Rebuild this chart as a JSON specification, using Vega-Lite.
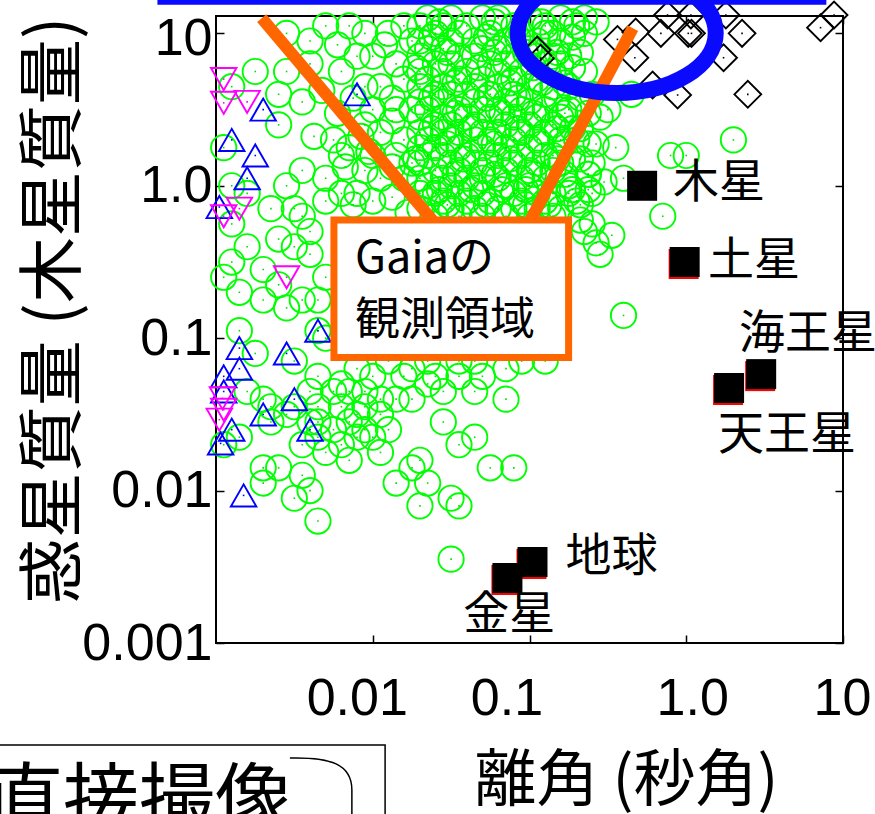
{
"$schema":"https://vega.github.io/schema/vega-lite/v6.json",
"width":627,"height":627,
"autosize":{"type":"none"},
"padding":{"left":216,"top":16,"right":32,"bottom":171},
"background":"white",
"config":{"view":{"stroke":"#000","strokeWidth":2}},
"datasets":{
"pts":[
{"k":"g","x":0.0224,"y":12.6},{"k":"g","x":0.0316,"y":12.6},{"k":"g","x":0.0501,"y":12.6},{"k":"g","x":0.0631,"y":12.6},{"k":"g","x":0.1,"y":12.6},{"k":"g","x":0.158,"y":12.6},{"k":"g","x":0.224,"y":12.6},
{"k":"g","x":0.02,"y":11.2},{"k":"g","x":0.0282,"y":11.2},{"k":"g","x":0.0398,"y":11.2},{"k":"g","x":0.0794,"y":11.2},{"k":"g","x":0.126,"y":11.2},
{"k":"g","x":0.0251,"y":10},{"k":"g","x":0.0355,"y":10},{"k":"g","x":0.0562,"y":10},{"k":"g","x":0.0891,"y":10},{"k":"g","x":0.141,"y":10},
{"k":"g","x":0.02,"y":8.91},{"k":"g","x":0.0316,"y":8.91},{"k":"g","x":0.0447,"y":8.91},{"k":"g","x":0.0708,"y":8.91},{"k":"g","x":0.112,"y":8.91},{"k":"g","x":0.158,"y":8.91},
{"k":"g","x":0.0224,"y":7.94},{"k":"g","x":0.0282,"y":7.94},{"k":"g","x":0.0501,"y":7.94},{"k":"g","x":0.0631,"y":7.94},{"k":"g","x":0.1,"y":7.94},
{"k":"g","x":0.02,"y":7.08},{"k":"g","x":0.0355,"y":7.08},{"k":"g","x":0.0447,"y":7.08},{"k":"g","x":0.0794,"y":7.08},{"k":"g","x":0.112,"y":7.08},
{"k":"g","x":0.0251,"y":6.31},{"k":"g","x":0.0316,"y":6.31},{"k":"g","x":0.0562,"y":6.31},{"k":"g","x":0.0708,"y":6.31},{"k":"g","x":0.126,"y":6.31},{"k":"g","x":0.158,"y":6.31},
{"k":"g","x":0.02,"y":5.62},{"k":"g","x":0.0282,"y":5.62},{"k":"g","x":0.0398,"y":5.62},{"k":"g","x":0.0631,"y":5.62},{"k":"g","x":0.0891,"y":5.62},{"k":"g","x":0.141,"y":5.62},
{"k":"g","x":0.0224,"y":5.01},{"k":"g","x":0.0355,"y":5.01},{"k":"g","x":0.0501,"y":5.01},{"k":"g","x":0.0794,"y":5.01},{"k":"g","x":0.112,"y":5.01},
{"k":"g","x":0.02,"y":4.47},{"k":"g","x":0.0282,"y":4.47},{"k":"g","x":0.0447,"y":4.47},{"k":"g","x":0.0631,"y":4.47},{"k":"g","x":0.1,"y":4.47},{"k":"g","x":0.141,"y":4.47},
{"k":"g","x":0.0251,"y":3.98},{"k":"g","x":0.0316,"y":3.98},{"k":"g","x":0.0398,"y":3.98},{"k":"g","x":0.0562,"y":3.98},{"k":"g","x":0.0794,"y":3.98},{"k":"g","x":0.126,"y":3.98},
{"k":"g","x":0.02,"y":3.55},{"k":"g","x":0.0282,"y":3.55},{"k":"g","x":0.0447,"y":3.55},{"k":"g","x":0.0708,"y":3.55},{"k":"g","x":0.1,"y":3.55},
{"k":"g","x":0.0224,"y":3.16},{"k":"g","x":0.0355,"y":3.16},{"k":"g","x":0.0501,"y":3.16},{"k":"g","x":0.0631,"y":3.16},{"k":"g","x":0.0891,"y":3.16},{"k":"g","x":0.126,"y":3.16},{"k":"g","x":0.178,"y":3.16},
{"k":"g","x":0.02,"y":2.82},{"k":"g","x":0.0282,"y":2.82},{"k":"g","x":0.0398,"y":2.82},{"k":"g","x":0.0562,"y":2.82},{"k":"g","x":0.0794,"y":2.82},{"k":"g","x":0.112,"y":2.82},
{"k":"g","x":0.0251,"y":2.51},{"k":"g","x":0.0316,"y":2.51},{"k":"g","x":0.0447,"y":2.51},{"k":"g","x":0.0708,"y":2.51},{"k":"g","x":0.1,"y":2.51},{"k":"g","x":0.141,"y":2.51},
{"k":"g","x":0.02,"y":2.24},{"k":"g","x":0.0282,"y":2.24},{"k":"g","x":0.0355,"y":2.24},{"k":"g","x":0.0501,"y":2.24},{"k":"g","x":0.0631,"y":2.24},{"k":"g","x":0.0891,"y":2.24},{"k":"g","x":0.126,"y":2.24},
{"k":"g","x":0.0224,"y":2.0},{"k":"g","x":0.0316,"y":2.0},{"k":"g","x":0.0447,"y":2.0},{"k":"g","x":0.0562,"y":2.0},{"k":"g","x":0.0794,"y":2.0},{"k":"g","x":0.112,"y":2.0},{"k":"g","x":0.158,"y":2.0},
{"k":"g","x":0.02,"y":1.78},{"k":"g","x":0.0251,"y":1.78},{"k":"g","x":0.0355,"y":1.78},{"k":"g","x":0.0501,"y":1.78},{"k":"g","x":0.0708,"y":1.78},{"k":"g","x":0.1,"y":1.78},
{"k":"g","x":0.0224,"y":1.58},{"k":"g","x":0.0282,"y":1.58},{"k":"g","x":0.0398,"y":1.58},{"k":"g","x":0.0631,"y":1.58},{"k":"g","x":0.0891,"y":1.58},{"k":"g","x":0.126,"y":1.58},
{"k":"g","x":0.02,"y":1.41},{"k":"g","x":0.0316,"y":1.41},{"k":"g","x":0.0447,"y":1.41},{"k":"g","x":0.0562,"y":1.41},{"k":"g","x":0.0794,"y":1.41},{"k":"g","x":0.112,"y":1.41},{"k":"g","x":0.158,"y":1.41},
{"k":"g","x":0.0251,"y":1.26},{"k":"g","x":0.0355,"y":1.26},{"k":"g","x":0.0501,"y":1.26},{"k":"g","x":0.0708,"y":1.26},{"k":"g","x":0.1,"y":1.26},{"k":"g","x":0.141,"y":1.26},
{"k":"g","x":0.02,"y":1.12},{"k":"g","x":0.0282,"y":1.12},{"k":"g","x":0.0398,"y":1.12},{"k":"g","x":0.0501,"y":1.12},{"k":"g","x":0.0631,"y":1.12},{"k":"g","x":0.0891,"y":1.12},{"k":"g","x":0.126,"y":1.12},
{"k":"g","x":0.0224,"y":1.0},{"k":"g","x":0.0316,"y":1.0},{"k":"g","x":0.0447,"y":1.0},{"k":"g","x":0.0708,"y":1.0},{"k":"g","x":0.1,"y":1.0},{"k":"g","x":0.178,"y":1.0},
{"k":"g","x":0.02,"y":0.891},{"k":"g","x":0.0251,"y":0.891},{"k":"g","x":0.0355,"y":0.891},{"k":"g","x":0.0501,"y":0.891},{"k":"g","x":0.0794,"y":0.891},{"k":"g","x":0.112,"y":0.891},{"k":"g","x":0.141,"y":0.891},
{"k":"g","x":0.0224,"y":0.794},{"k":"g","x":0.0282,"y":0.794},{"k":"g","x":0.0398,"y":0.794},{"k":"g","x":0.0562,"y":0.794},{"k":"g","x":0.0891,"y":0.794},{"k":"g","x":0.126,"y":0.794},
{"k":"g","x":0.02,"y":0.708},{"k":"g","x":0.0316,"y":0.708},{"k":"g","x":0.0447,"y":0.708},{"k":"g","x":0.0631,"y":0.708},{"k":"g","x":0.0794,"y":0.708},{"k":"g","x":0.112,"y":0.708},{"k":"g","x":0.158,"y":0.708},
{"k":"g","x":0.0251,"y":0.631},{"k":"g","x":0.0355,"y":0.631},{"k":"g","x":0.0501,"y":0.631},{"k":"g","x":0.0708,"y":0.631},{"k":"g","x":0.1,"y":0.631},{"k":"g","x":0.141,"y":0.631},
{"k":"g","x":0.0266,"y":11.89},{"k":"g","x":0.0596,"y":11.89},{"k":"g","x":0.119,"y":11.89},{"k":"g","x":0.188,"y":11.89},{"k":"g","x":0.266,"y":11.89},
{"k":"g","x":0.0237,"y":9.44},{"k":"g","x":0.0531,"y":9.44},{"k":"g","x":0.0841,"y":9.44},{"k":"g","x":0.188,"y":9.44},
{"k":"g","x":0.0299,"y":7.5},{"k":"g","x":0.0596,"y":7.5},{"k":"g","x":0.0944,"y":7.5},{"k":"g","x":0.15,"y":7.5},{"k":"g","x":0.211,"y":7.5},
{"k":"g","x":0.0188,"y":5.96},{"k":"g","x":0.0473,"y":5.96},{"k":"g","x":0.106,"y":5.96},{"k":"g","x":0.188,"y":5.96},
{"k":"g","x":0.0335,"y":4.73},{"k":"g","x":0.075,"y":4.73},{"k":"g","x":0.119,"y":4.73},{"k":"g","x":0.168,"y":4.73},
{"k":"g","x":0.0237,"y":3.76},{"k":"g","x":0.0531,"y":3.76},{"k":"g","x":0.0841,"y":3.76},{"k":"g","x":0.15,"y":3.76},{"k":"g","x":0.211,"y":3.76},
{"k":"g","x":0.0335,"y":2.99},{"k":"g","x":0.0668,"y":2.99},{"k":"g","x":0.106,"y":2.99},{"k":"g","x":0.168,"y":2.99},{"k":"g","x":0.237,"y":2.99},
{"k":"g","x":0.0237,"y":2.37},{"k":"g","x":0.0422,"y":2.37},{"k":"g","x":0.0841,"y":2.37},{"k":"g","x":0.15,"y":2.37},{"k":"g","x":0.188,"y":2.37},
{"k":"g","x":0.0299,"y":1.88},{"k":"g","x":0.0596,"y":1.88},{"k":"g","x":0.119,"y":1.88},{"k":"g","x":0.168,"y":1.88},{"k":"g","x":0.237,"y":1.88},
{"k":"g","x":0.0188,"y":1.5},{"k":"g","x":0.0376,"y":1.5},{"k":"g","x":0.075,"y":1.5},{"k":"g","x":0.15,"y":1.5},{"k":"g","x":0.211,"y":1.5},
{"k":"g","x":0.0335,"y":1.19},{"k":"g","x":0.0596,"y":1.19},{"k":"g","x":0.106,"y":1.19},{"k":"g","x":0.168,"y":1.19},{"k":"g","x":0.237,"y":1.19},
{"k":"g","x":0.0266,"y":0.944},{"k":"g","x":0.0422,"y":0.944},{"k":"g","x":0.0668,"y":0.944},{"k":"g","x":0.0944,"y":0.944},{"k":"g","x":0.188,"y":0.944},{"k":"g","x":0.237,"y":0.944},
{"k":"g","x":0.0299,"y":0.75},{"k":"g","x":0.0531,"y":0.75},{"k":"g","x":0.0944,"y":0.75},{"k":"g","x":0.133,"y":0.75},{"k":"g","x":0.211,"y":0.75},
{"k":"g","x":0.00596,"y":8.41},{"k":"g","x":0.0119,"y":8.41},{"k":"g","x":0.0075,"y":3.76},{"k":"g","x":0.0133,"y":3.76},{"k":"g","x":0.00596,"y":2.99},{"k":"g","x":0.00841,"y":2.11},{"k":"g","x":0.0133,"y":2.66},{"k":"g","x":0.00668,"y":1.33},{"k":"g","x":0.0133,"y":1.33},{"k":"g","x":0.00944,"y":1.68},{"k":"g","x":0.0075,"y":0.75},{"k":"g","x":0.0133,"y":0.841},{"k":"g","x":0.0168,"y":0.668},{"k":"g","x":0.00422,"y":2.11},{"k":"g","x":0.00473,"y":4.22},
{"k":"g","x":0.211,"y":2.37},{"k":"g","x":0.266,"y":1.88},{"k":"g","x":0.188,"y":1.5},{"k":"g","x":0.237,"y":1.19},{"k":"g","x":0.299,"y":1.06},{"k":"g","x":0.211,"y":0.596},{"k":"g","x":0.266,"y":0.422},{"k":"g","x":0.335,"y":0.473},
{"k":"g","x":0.00282,"y":10},{"k":"g","x":0.00398,"y":8.91},{"k":"g","x":0.00178,"y":5.62},{"k":"g","x":0.00282,"y":5.62},{"k":"g","x":0.00398,"y":6.31},{"k":"g","x":0.00251,"y":3.98},{"k":"g","x":0.00355,"y":3.55},{"k":"g","x":0.00126,"y":4.47},{"k":"g","x":0.00251,"y":2.51},{"k":"g","x":0.00562,"y":2.0},{"k":"g","x":0.00631,"y":1.58},{"k":"g","x":0.00355,"y":1.26},{"k":"g","x":0.00501,"y":1.12},{"k":"g","x":0.00282,"y":1.0},{"k":"g","x":0.00126,"y":1.0},{"k":"g","x":0.00158,"y":0.891},{"k":"g","x":0.00631,"y":0.891},{"k":"g","x":0.00501,"y":0.794},{"k":"g","x":0.00316,"y":0.708},{"k":"g","x":0.00112,"y":1.78},
{"k":"g","x":0.00501,"y":11.2},{"k":"g","x":0.00708,"y":11.2},{"k":"g","x":0.00891,"y":10},{"k":"g","x":0.0126,"y":10},{"k":"g","x":0.0158,"y":11.2},{"k":"g","x":0.0178,"y":8.91},{"k":"g","x":0.00794,"y":7.08},{"k":"g","x":0.01,"y":7.08},{"k":"g","x":0.0141,"y":6.31},{"k":"g","x":0.00631,"y":5.62},{"k":"g","x":0.00891,"y":4.47},{"k":"g","x":0.0112,"y":4.47},{"k":"g","x":0.0158,"y":5.01},{"k":"g","x":0.01,"y":3.16},{"k":"g","x":0.0141,"y":3.16},{"k":"g","x":0.0178,"y":3.16},{"k":"g","x":0.00891,"y":2.51},{"k":"g","x":0.0112,"y":2.24},{"k":"g","x":0.0158,"y":2.0},{"k":"g","x":0.00708,"y":1.78},{"k":"g","x":0.01,"y":1.58},{"k":"g","x":0.0141,"y":1.58},{"k":"g","x":0.0178,"y":1.41},{"k":"g","x":0.00891,"y":1.26},{"k":"g","x":0.0112,"y":1.12},{"k":"g","x":0.0158,"y":1.12},{"k":"g","x":0.00794,"y":0.891},{"k":"g","x":0.01,"y":0.794},
{"k":"g","x":0.126,"y":10},{"k":"g","x":0.2,"y":11.2},{"k":"g","x":0.178,"y":7.08},{"k":"g","x":0.141,"y":7.08},{"k":"g","x":0.224,"y":10},{"k":"g","x":0.158,"y":2.82},{"k":"g","x":0.251,"y":3.98},{"k":"g","x":0.316,"y":3.16},{"k":"g","x":0.355,"y":1.78},{"k":"g","x":0.251,"y":1.41},{"k":"g","x":0.447,"y":3.98},{"k":"g","x":0.398,"y":1.12},{"k":"g","x":0.794,"y":1.58},{"k":"g","x":1.0,"y":1.58},{"k":"g","x":2.0,"y":2.0},{"k":"g","x":0.282,"y":2.82},{"k":"g","x":0.251,"y":0.891},{"k":"g","x":0.178,"y":0.891},{"k":"g","x":0.141,"y":1.58},{"k":"g","x":0.708,"y":0.631},{"k":"g","x":0.282,"y":0.355},{"k":"g","x":0.251,"y":0.562},{"k":"g","x":0.224,"y":0.501},{"k":"g","x":0.398,"y":0.141},{"k":"g","x":0.2,"y":0.794},{"k":"g","x":0.126,"y":0.0708},{"k":"g","x":0.2,"y":2.0},{"k":"g","x":0.224,"y":5.62},{"k":"g","x":0.178,"y":4.47},
{"k":"g","x":0.00158,"y":0.398},{"k":"g","x":0.00126,"y":0.316},{"k":"g","x":0.002,"y":0.282},{"k":"g","x":0.00112,"y":0.251},{"k":"g","x":0.00141,"y":0.2},{"k":"g","x":0.00355,"y":0.631},{"k":"g","x":0.00224,"y":0.708},{"k":"g","x":0.00398,"y":0.501},{"k":"g","x":0.00316,"y":0.398},{"k":"g","x":0.00398,"y":0.355},{"k":"g","x":0.00501,"y":0.251},{"k":"g","x":0.00251,"y":0.224},{"k":"g","x":0.00355,"y":0.178},{"k":"g","x":0.00447,"y":0.178},{"k":"g","x":0.00141,"y":0.112},{"k":"g","x":0.00178,"y":0.0794},{"k":"g","x":0.00126,"y":0.562},{"k":"g","x":0.00251,"y":0.447},{"k":"g","x":0.00282,"y":0.158},{"k":"g","x":0.002,"y":0.178},
{"k":"g","x":0.00316,"y":0.0708},{"k":"g","x":0.00447,"y":0.0562},{"k":"g","x":0.00501,"y":0.1},{"k":"g","x":0.00224,"y":0.0355},{"k":"g","x":0.00224,"y":0.0282},{"k":"g","x":0.00282,"y":0.0316},{"k":"g","x":0.00316,"y":0.0355},{"k":"g","x":0.00158,"y":0.0447},{"k":"g","x":0.00141,"y":0.0224},{"k":"g","x":0.00112,"y":0.02},{"k":"g","x":0.002,"y":0.0141},{"k":"g","x":0.00251,"y":0.0141},{"k":"g","x":0.002,"y":0.0112},{"k":"g","x":0.00355,"y":0.0126},{"k":"g","x":0.00398,"y":0.01},{"k":"g","x":0.00316,"y":0.00891},{"k":"g","x":0.00447,"y":0.00631},{"k":"g","x":0.00501,"y":0.0178},{"k":"g","x":0.00355,"y":0.02},{"k":"g","x":0.00631,"y":0.02},{"k":"g","x":0.00708,"y":0.0158},{"k":"g","x":0.00562,"y":0.0251},{"k":"g","x":0.00447,"y":0.0282},{"k":"g","x":0.00398,"y":0.0447},{"k":"g","x":0.002,"y":0.0398},{"k":"g","x":0.00447,"y":0.112},
{"k":"g","x":0.00794,"y":0.0631},{"k":"g","x":0.00631,"y":0.0501},{"k":"g","x":0.01,"y":0.0562},{"k":"g","x":0.0126,"y":0.0708},{"k":"g","x":0.00891,"y":0.0355},{"k":"g","x":0.0112,"y":0.0398},{"k":"g","x":0.0141,"y":0.0398},{"k":"g","x":0.0178,"y":0.0398},{"k":"g","x":0.0224,"y":0.0501},{"k":"g","x":0.0251,"y":0.0562},{"k":"g","x":0.0355,"y":0.0562},{"k":"g","x":0.0355,"y":0.0708},{"k":"g","x":0.0501,"y":0.0562},{"k":"g","x":0.0447,"y":0.0447},{"k":"g","x":0.0708,"y":0.0631},{"k":"g","x":0.0708,"y":0.0398},{"k":"g","x":0.0282,"y":0.0282},{"k":"g","x":0.00631,"y":0.0355},{"k":"g","x":0.00794,"y":0.0224},{"k":"g","x":0.0112,"y":0.0178},{"k":"g","x":0.02,"y":0.0158},{"k":"g","x":0.0178,"y":0.0141},{"k":"g","x":0.0141,"y":0.0112},{"k":"g","x":0.0224,"y":0.0112},{"k":"g","x":0.0316,"y":0.00891},{"k":"g","x":0.0355,"y":0.02},{"k":"g","x":0.0447,"y":0.0224},{"k":"g","x":0.0562,"y":0.0141},{"k":"g","x":0.0794,"y":0.0141},{"k":"g","x":0.02,"y":0.00794},{"k":"g","x":0.0355,"y":0.00794},{"k":"g","x":0.0316,"y":0.00355},{"k":"g","x":0.0178,"y":0.0631},{"k":"g","x":0.0224,"y":0.0708},{"k":"g","x":0.0447,"y":0.0708},{"k":"g","x":0.0891,"y":0.0708},{"k":"g","x":0.00708,"y":0.0447},{"k":"g","x":0.00891,"y":0.0447},{"k":"g","x":0.0112,"y":0.0316},{"k":"g","x":0.00708,"y":0.0282},{"k":"g","x":0.00891,"y":0.0251},{"k":"g","x":0.01,"y":0.0224},{"k":"g","x":0.0126,"y":0.0251},{"k":"g","x":0.00794,"y":0.0316},{"k":"g","x":0.00562,"y":0.0447},{"k":"g","x":0.00447,"y":0.0355},{"k":"g","x":0.00398,"y":0.0282},{"k":"g","x":0.00447,"y":0.0224},{"k":"g","x":0.0158,"y":0.0562},{"k":"g","x":0.0282,"y":0.0447},
{"k":"b","x":0.00794,"y":3.98},{"k":"b","x":0.002,"y":3.16},{"k":"b","x":0.00126,"y":2.0},{"k":"b","x":0.00178,"y":1.58},{"k":"b","x":0.00158,"y":1.12},{"k":"b","x":0.00105,"y":0.725},{"k":"b","x":0.00447,"y":0.112},{"k":"b","x":0.00141,"y":0.0861},{"k":"b","x":0.00141,"y":0.0631},{"k":"b","x":0.00112,"y":0.0562},{"k":"b","x":0.00112,"y":0.0447},{"k":"b","x":0.00282,"y":0.0794},{"k":"b","x":0.00316,"y":0.0398},{"k":"b","x":0.002,"y":0.0316},{"k":"b","x":0.00398,"y":0.0251},{"k":"b","x":0.00126,"y":0.0251},{"k":"b","x":0.00107,"y":0.0204},{"k":"b","x":0.0015,"y":0.0093},
{"k":"m","x":0.00112,"y":5.01},{"k":"m","x":0.00158,"y":3.55},{"k":"m","x":0.00112,"y":3.5},{"k":"m","x":0.00141,"y":0.708},{"k":"m","x":0.00112,"y":0.631},{"k":"m","x":0.00282,"y":0.251},{"k":"m","x":0.0011,"y":0.0403},{"k":"m","x":0.00112,"y":0.0339},{"k":"m","x":0.00105,"y":0.0292},
{"k":"d","x":8.77,"y":13.2},{"k":"d","x":7.19,"y":10.9},{"k":"d","x":0.76,"y":13.2},{"k":"d","x":1.07,"y":13.2},{"k":"d","x":1.79,"y":13.2},{"k":"d","x":0.476,"y":10.2},{"k":"d","x":0.364,"y":9.13},{"k":"d","x":0.689,"y":10.0},{"k":"d","x":1.03,"y":10.0},{"k":"d","x":1.08,"y":10.0},{"k":"d","x":2.27,"y":10.0},{"k":"d","x":0.47,"y":6.92},{"k":"d","x":1.73,"y":6.92},{"k":"d","x":0.112,"y":7.77},{"k":"d","x":0.1176,"y":6.86},{"k":"d","x":0.61,"y":4.58},{"k":"d","x":0.881,"y":3.94},{"k":"d","x":2.47,"y":3.98}
],
"planets":[
{"name":"木星","x":0.523,"y":1.0},{"name":"土星","x":0.977,"y":0.316},{"name":"天王星","x":1.876,"y":0.0471},{"name":"海王星","x":3.006,"y":0.0581},{"name":"地球","x":0.1045,"y":0.0034},{"name":"金星","x":0.0723,"y":0.00267}
],
"planetLabels":[
{"name":"木星","x":0.822,"y":0.843},{"name":"土星","x":1.376,"y":0.259},{"name":"海王星","x":2.174,"y":0.0861},{"name":"天王星","x":1.595,"y":0.0187},{"name":"地球","x":0.17,"y":0.00296},{"name":"金星","x":0.0378,"y":0.00123}
],
"gaiaLines":[
{"x":0.001957,"y":12.6,"x2":0.02716,"y2":0.512},
{"x":0.456,"y":10.83,"x2":0.0939,"y2":0.512}
],
"gaiaBox":[{"x":0.005655,"x2":0.1776,"y":0.5956,"y2":0.07459}],
"gaiaText":[{"x":0.0077,"y":0.267,"label":"Gaiaの\n観測領域"}],
"ellipse":[{"x":0.3602,"y":10.05}],
"topLine":[{"x":0.000423,"x2":7.83,"y":16.5}],
"diBox":[{"x":0.0000356,"x2":0.01199,"y":0.0002138,"y2":0.0000591}],
"diText":[{"x":0.0000346,"y":0.0000629,"label":"直接撮像"}],
"diCurve":[{"x":0.0046,"y":0.000117}]
},
"encoding":{
"x":{"field":"x","type":"quantitative","scale":{"type":"log","domain":[0.001,10],"nice":false},"axis":null},
"y":{"field":"y","type":"quantitative","scale":{"type":"log","domain":[0.001,13],"nice":false},"axis":null}
},
"resolve":{"axis":{"x":"independent","y":"independent"}},
"layer":[
{"data":{"name":"pts"},"transform":[{"filter":"datum.k == 'g'"}],
 "mark":{"type":"point","shape":"circle","filled":false,"stroke":"#00ff00","strokeWidth":1.9,"size":640,"opacity":1,"strokeOpacity":1},
 "encoding":{
  "x":{"field":"x","type":"quantitative","scale":{"type":"log","domain":[0.001,10],"nice":false},
   "axis":{"orient":"bottom","values":[0.01,0.1,1,10],"labelExpr":"datum.value > 5 ? '10' : datum.value > 0.5 ? '1.0' : datum.value > 0.05 ? '0.1' : '0.01'","labelOffset":{"condition":[{"test":"datum.value < 0.05","value":-16},{"test":"datum.value < 0.5","value":-23},{"test":"datum.value < 5","value":6}],"value":-1},"tickSize":-8,"tickWidth":1.5,"tickColor":"#000","domain":false,"grid":false,"labelFont":"Liberation Sans","labelFontSize":52,"labelColor":"#000","labelPadding":38,"labelFlush":false,"labelOverlap":false,"labelBound":false,"title":"離角 (秒角)","titleFont":"Noto Sans CJK JP","titleFontSize":62,"titleFontWeight":"normal","titleColor":"#000","titleX":410,"titleY":157,"titleBaseline":"alphabetic","titleAlign":"center"}},
  "y":{"field":"y","type":"quantitative","scale":{"type":"log","domain":[0.001,13],"nice":false},
   "axis":{"orient":"left","values":[0.001,0.01,0.1,1,10],"labelExpr":"datum.value > 5 ? '10' : datum.value > 0.5 ? '1.0' : datum.value > 0.05 ? '0.1' : datum.value > 0.005 ? '0.01' : '0.001'","labelOffset":{"condition":{"test":"datum.value > 5","value":5},"value":0},"tickSize":-8,"tickWidth":1.5,"tickColor":"#000","domain":false,"grid":false,"labelFont":"Liberation Sans","labelFontSize":52,"labelColor":"#000","labelPadding":12,"labelOverlap":false,"labelBound":false,"labelBaseline":"middle","title":"惑星質量 (木星質量)","titleFont":"Noto Sans CJK JP","titleFontSize":66,"titleFontWeight":"normal","titleColor":"#000","titleX":-142,"titleY":294,"titleAngle":270,"titleBaseline":"alphabetic","titleAlign":"center"}}
 }},
{"data":{"name":"pts"},"transform":[{"filter":"datum.k == 'b'"}],
 "mark":{"type":"point","shape":"triangle-up","filled":false,"stroke":"#0000ff","strokeWidth":1.9,"size":650,"opacity":1}},
{"data":{"name":"pts"},"transform":[{"filter":"datum.k == 'm'"}],
 "mark":{"type":"point","shape":"triangle-down","filled":false,"stroke":"#ff00ff","strokeWidth":1.9,"size":650,"opacity":1}},
{"data":{"name":"pts"},"transform":[{"filter":"datum.k == 'd'"}],
 "mark":{"type":"point","shape":"diamond","filled":false,"stroke":"#000000","strokeWidth":1.9,"size":720,"opacity":1},
 "encoding":{
  "x":{"field":"x","type":"quantitative","scale":{"type":"log","domain":[0.001,10],"nice":false},
   "axis":{"orient":"top","values":[0.01,0.1,1,10],"labels":false,"tickSize":-8,"tickWidth":1.5,"tickColor":"#000","domain":false,"grid":false,"title":null}},
  "y":{"field":"y","type":"quantitative","scale":{"type":"log","domain":[0.001,13],"nice":false},
   "axis":{"orient":"right","values":[0.001,0.01,0.1,1,10],"labels":false,"tickSize":-8,"tickWidth":1.5,"tickColor":"#000","domain":false,"grid":false,"title":null}}
 }},
{"data":{"name":"pts"},
 "mark":{"type":"square","size":2.5,"filled":true,"opacity":1},
 "encoding":{"color":{"field":"k","type":"nominal","scale":{"domain":["g","b","m","d"],"range":["#00dd00","#0000ff","#ff00ff","#000000"]},"legend":null}}},
{"data":{"name":"gaiaLines"},
 "mark":{"type":"rule","color":"#ff6600","strokeWidth":12,"strokeCap":"butt","opacity":1},
 "encoding":{"x2":{"field":"x2"},"y2":{"field":"y2"}}},
{"data":{"name":"gaiaBox"},
 "mark":{"type":"rect","fill":"#ffffff","stroke":"#ff6600","strokeWidth":7,"opacity":1},
 "encoding":{"x2":{"field":"x2"},"y2":{"field":"y2"}}},
{"data":{"name":"gaiaText"},
 "mark":{"type":"text","align":"left","baseline":"alphabetic","font":"Noto Sans CJK JP","fontSize":45,"lineHeight":62,"lineBreak":"\n","color":"#000"},
 "encoding":{"text":{"field":"label"}}},
{"data":{"name":"planets"},"transform":[{"filter":"datum.name != '木星'"}],
 "mark":{"type":"square","filled":true,"color":"#ff0000","size":900,"yOffset":2,"xOffset":-1,"opacity":1}},
{"data":{"name":"planets"},
 "mark":{"type":"square","filled":true,"color":"#000000","size":900,"opacity":1}},
{"data":{"name":"planetLabels"},
 "mark":{"type":"text","align":"left","baseline":"alphabetic","font":"Noto Sans CJK JP","fontSize":46,"color":"#000"},
 "encoding":{"text":{"field":"name"}}},
{"data":{"name":"ellipse"},
 "mark":{"type":"point","shape":"M-1,0A1,0.606,0,1,1,1,0A1,0.606,0,1,1,-1,0Z","filled":false,"stroke":"#0a0aff","strokeWidth":16,"size":39204,"opacity":1}},
{"data":{"name":"topLine"},
 "mark":{"type":"rule","color":"#0a0aff","strokeWidth":9,"strokeCap":"butt","opacity":1},
 "encoding":{"x2":{"field":"x2"}}},
{"data":{"name":"diBox"},
 "mark":{"type":"rect","fill":"#ffffff","stroke":"#000000","strokeWidth":1.5,"opacity":1},
 "encoding":{"x2":{"field":"x2"},"y2":{"field":"y2"}}},
{"data":{"name":"diText"},
 "mark":{"type":"text","align":"left","baseline":"alphabetic","font":"Noto Sans CJK JP","fontSize":76,"color":"#000"},
 "encoding":{"text":{"field":"label"}}},
{"data":{"name":"diCurve"},
 "mark":{"type":"point","shape":"M-0.857,-0.771C0.3,-0.8,0.914,-0.6,0.914,0.143L0.914,1","filled":false,"stroke":"#000000","strokeWidth":1.5,"size":4900,"opacity":1}}
]
}
